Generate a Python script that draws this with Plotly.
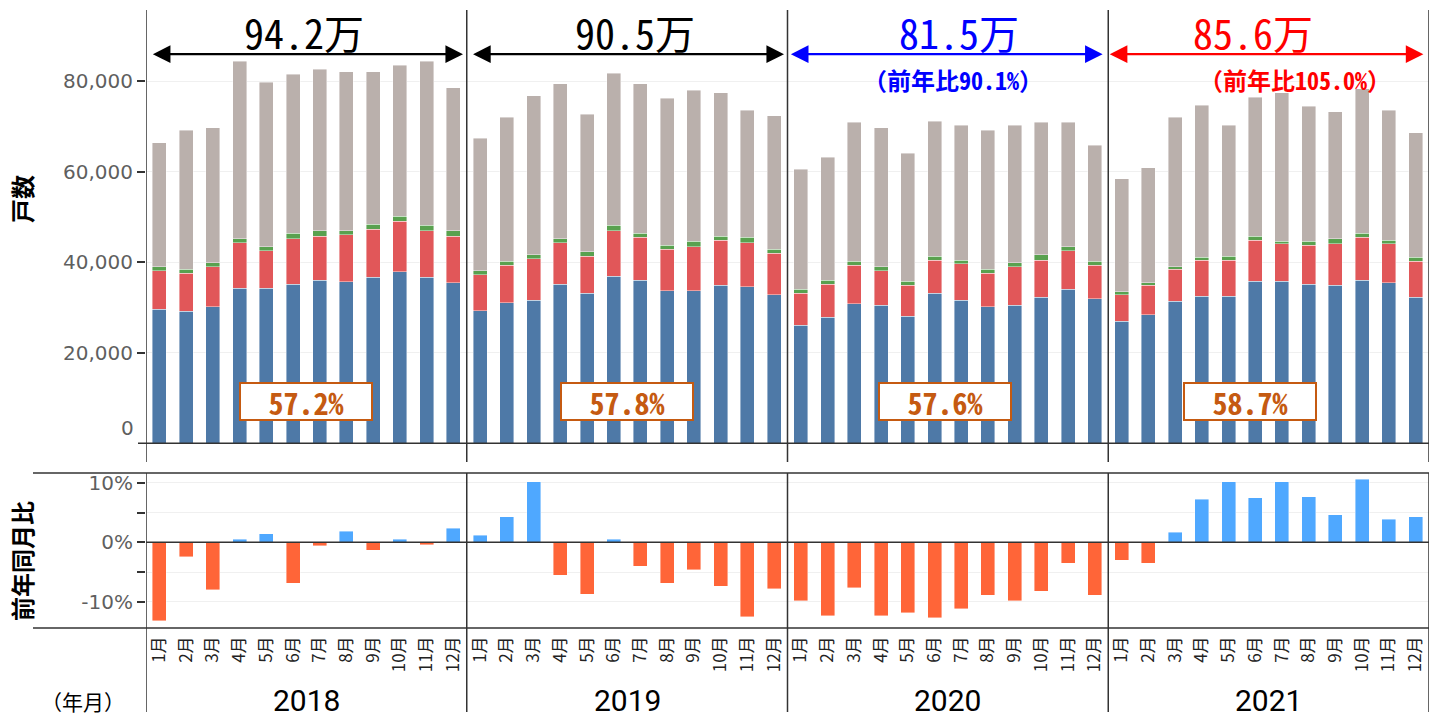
import plotly.graph_objects as go

# --- data -----------------------------------------------------------------
YEARS = ["2018", "2019", "2020", "2021"]
MONTHS = ["1月", "2月", "3月", "4月", "5月", "6月",
          "7月", "8月", "9月", "10月", "11月", "12月"]

# stacked segments (戸数), 48 months: 2018 / 2019 / 2020 / 2021
BLUE = [29610, 29240, 30190, 34320, 34320, 35200, 36090, 35710, 36680, 37860, 36680, 35490,
        29310, 31080, 31670, 35200, 33150, 36970, 36090, 33730, 33730, 34910, 34610, 32840,
        26080, 27850, 30790, 30500, 28130, 33150, 31670, 30190, 30500, 32270, 34030, 31960,
        26960, 28420, 31380, 32550, 32550, 35800, 35800, 35200, 34910, 36090, 35490, 32270]
RED = [8540, 8330, 8840, 10010, 8240, 10020, 9720, 10390, 10610, 11200, 10300, 10320,
       7960, 8260, 9130, 9130, 8240, 10010, 9440, 9140, 9720, 10020, 9720, 9150,
       7070, 7350, 8550, 7650, 6780, 7360, 7960, 7380, 8530, 8240, 8530, 7380,
       5880, 6490, 7070, 7960, 7960, 9130, 8250, 8560, 9140, 9440, 8560, 7950]
GREEN = [880, 880, 890, 890, 890, 1190, 1170, 880, 1170, 1170, 1200, 1170,
         880, 880, 890, 890, 890, 1200, 880, 890, 1190, 880, 1200, 880,
         880, 890, 880, 880, 890, 880, 880, 880, 890, 1180, 890, 880,
         600, 580, 580, 590, 880, 880, 590, 880, 1170, 880, 880, 880]
GRAY = [27420, 30720, 29830, 39270, 36330, 35140, 35740, 35150, 33670, 33370, 36310, 31610,
        29250, 31890, 35130, 34250, 30420, 33650, 33060, 32480, 33370, 31610, 28060, 29530,
        26520, 27180, 30720, 30720, 28350, 29840, 29830, 30720, 30420, 29250, 27490, 25700,
        25040, 25420, 33080, 33660, 28950, 30720, 32780, 29840, 28060, 31990, 28660, 27480]

# 前年同月比 (%)
YOY = [-13.2, -2.4, -8.0, 0.55, 1.45, -6.9, -0.57, 1.9, -1.3, 0.55, -0.4, 2.35,
       1.17, 4.3, 10.2, -5.5, -8.7, 0.55, -4.0, -6.9, -4.65, -7.35, -12.5, -7.8,
       -9.8, -12.3, -7.6, -12.3, -11.8, -12.7, -11.2, -8.9, -9.8, -8.2, -3.5, -8.9,
       -3.0, -3.5, 1.7, 7.2, 10.2, 7.5, 10.2, 7.7, 4.6, 10.6, 3.9, 4.3]

YEAR_TOTAL = ["94.2万", "90.5万", "81.5万", "85.6万"]
YEAR_RATIO = ["", "", "（前年比90.1%）", "（前年比105.0%）"]
YEAR_SHARE = ["57.2%", "57.8%", "57.6%", "58.7%"]

# --- styling ----------------------------------------------------------------
C_BLUE, C_RED, C_GREEN, C_GRAY = "#4E79A7", "#E15759", "#59A14F", "#BAB0AC"
C_POS, C_NEG = "#4FA8FF", "#FF6538"
TOTAL_COLORS = ["black", "black", "#0000FF", "#FF0000"]
SHARE_COLOR = "#C55A11"
LINE = "#333333"
JP = "Noto Sans Mono CJK JP, Noto Sans CJK JP, sans-serif"
TICK_FONT = dict(family="DejaVu Sans, sans-serif", size=20, color="#5f5f5f")
EDGE = dict(width=0.6, color="rgba(255,255,255,0.7)")

x = list(range(len(BLUE)))

fig = go.Figure()
for vals, col in [(BLUE, C_BLUE), (RED, C_RED), (GREEN, C_GREEN), (GRAY, C_GRAY)]:
    fig.add_trace(go.Bar(x=x, y=vals, marker=dict(color=col, line=EDGE), xaxis="x", yaxis="y"))
fig.add_trace(go.Bar(x=x, y=YOY, marker=dict(color=[C_POS if v >= 0 else C_NEG for v in YOY], line=EDGE),
                     xaxis="x", yaxis="y2"))

# pixel helpers (plot area 146..1429 x 10..628)
PW, PH, PL, PT = 1283, 618, 146, 10


def py(p):
    return (PT + PH - p) / PH


def px(p):
    return (p - PL) / PW


shapes = []
for b in [-0.5, 11.5, 23.5, 35.5, 47.5]:
    shapes.append(dict(type="line", xref="x", yref="paper", x0=b, x1=b, y0=py(462), y1=1,
                       line=dict(color=LINE, width=1.5)))
    shapes.append(dict(type="line", xref="x", yref="paper", x0=b, x1=b, y0=py(712), y1=py(473),
                       line=dict(color=LINE, width=1.5)))
shapes += [
    dict(type="line", xref="paper", yref="y", x0=px(138), x1=1, y0=0, y1=0, line=dict(color=LINE, width=1.5)),
    dict(type="line", xref="paper", yref="y2", x0=0, x1=1, y0=0, y1=0, line=dict(color=LINE, width=1.5)),
    dict(type="line", xref="paper", yref="paper", x0=px(33), x1=1, y0=py(473), y1=py(473),
         line=dict(color=LINE, width=1.5)),
    dict(type="line", xref="paper", yref="paper", x0=px(33), x1=1, y0=py(628), y1=py(628),
         line=dict(color=LINE, width=1.5)),
]

annotations = []
total_dx = [-0.1, 0.3, 0.4, -0.6]
ratio_dx = [0, 0, 0.2, 1.0]
share_dx = [0, 0, -0.1, -0.7]
arrow_l = [-0.3, -0.32, -0.43, -0.5]
arrow_r = [11.36, 11.37, 11.29, 11.29]
for i, yr in enumerate(YEARS):
    c = 12 * i + 5.5
    annotations.append(dict(x=12 * i + arrow_r[i], y=86000, ax=12 * i + arrow_l[i], ay=86000,
                            xref="x", yref="y", axref="x", ayref="y", text="", showarrow=True,
                            arrowhead=2, startarrowhead=2, arrowside="end+start",
                            arrowsize=1.6, startarrowsize=1.6, arrowwidth=2.2,
                            arrowcolor=TOTAL_COLORS[i], standoff=0, startstandoff=0))
    annotations.append(dict(x=c + total_dx[i], y=90900, xref="x", yref="y", text=YEAR_TOTAL[i],
                            showarrow=False, xanchor="center", yanchor="middle",
                            font=dict(family=JP, size=40, color=TOTAL_COLORS[i])))
    if YEAR_RATIO[i]:
        annotations.append(dict(x=c + ratio_dx[i], y=80500, xref="x", yref="y", text=YEAR_RATIO[i],
                                showarrow=False, xanchor="center", yanchor="middle",
                                font=dict(family=JP, size=24, color=TOTAL_COLORS[i], weight="bold")))
    annotations.append(dict(x=c + share_dx[i], y=9130, xref="x", yref="y", text=YEAR_SHARE[i],
                            showarrow=False, bgcolor="white", bordercolor=SHARE_COLOR, borderwidth=2,
                            borderpad=1, width=128, height=33, xanchor="center", yanchor="middle",
                            font=dict(family=JP, size=30, color=SHARE_COLOR, weight="bold")))
    annotations.append(dict(x=c, y=py(700), xref="x", yref="paper", text=yr, showarrow=False,
                            xanchor="center", yanchor="middle",
                            font=dict(family="Liberation Sans Narrow, Roboto, sans-serif", size=30,
                                      color="black")))

annotations += [
    dict(x=px(22), y=py(199), xref="paper", yref="paper", text="戸数", textangle=-90, showarrow=False,
         xanchor="center", yanchor="middle",
         font=dict(family="Noto Sans CJK JP", size=24, color="black", weight="bold")),
    dict(x=px(21), y=py(561), xref="paper", yref="paper", text="前年同月比", textangle=-90, showarrow=False,
         xanchor="center", yanchor="middle",
         font=dict(family="Noto Sans CJK JP", size=24, color="black", weight="bold")),
    dict(x=px(83), y=py(701), xref="paper", yref="paper", text="（年月）", showarrow=False,
         xanchor="center", yanchor="middle",
         font=dict(family="Noto Sans CJK JP", size=21, color="black")),
    dict(x=0, y=3400, xref="paper", yref="y", text="0", showarrow=False, xanchor="right", yanchor="middle",
         xshift=-10, font=TICK_FONT),
]

fig.update_layout(
    width=1437, height=720,
    margin=dict(l=PL, r=8, t=PT, b=92),
    paper_bgcolor="white", plot_bgcolor="white",
    barmode="stack", bargap=0.476, showlegend=False,
    font=dict(family="Noto Sans CJK JP, sans-serif", color="black"),
    xaxis=dict(anchor="y2", range=[-0.5, 47.5], tickvals=x, ticktext=MONTHS * 4, tickangle=-90,
               ticks="", showgrid=False, zeroline=False, showline=False, ticklabelstandoff=4,
               tickfont=dict(family="Noto Sans CJK JP", size=17, color="#222222")),
    yaxis=dict(domain=[py(460), 1], range=[-3690, 95760], tickvals=[20000, 40000, 60000, 80000],
               tickformat=",", ticks="outside", ticklen=8, tickcolor=LINE, tickwidth=1.5,
               showgrid=True, gridcolor="#f0f0f0", zeroline=False, showline=False, tickfont=TICK_FONT),
    yaxis2=dict(domain=[0, py(473)], range=[-14.4, 11.65], tickvals=[-10, 0, 10],
                ticktext=["-10%", "0%", "10%"], ticks="outside", ticklen=8, tickcolor=LINE, tickwidth=1.5,
                showgrid=True, gridcolor="#f0f0f0", zeroline=False, showline=False, tickfont=TICK_FONT,
                minor=dict(tickvals=[-5, 5], ticks="outside", ticklen=8, tickcolor=LINE,
                           showgrid=True, gridcolor="#f0f0f0")),
    shapes=shapes,
    annotations=annotations,
)

fig.write_html("out.html", config={"displayModeBar": False},
               post_script="document.body.style.margin='0';document.body.style.overflow='hidden';")
